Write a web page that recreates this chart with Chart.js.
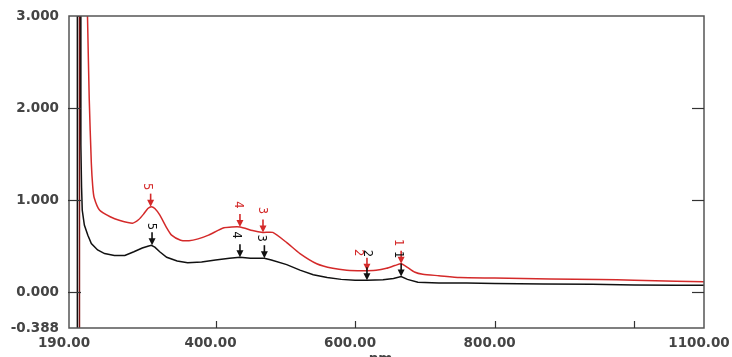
<!DOCTYPE html>
<html>
<head>
<meta charset="utf-8">
<script src="https://cdn.jsdelivr.net/npm/chart.js@4.4.1/dist/chart.umd.min.js"></script>
<style>
html,body{margin:0;padding:0;background:#fff;}
#c{display:block;}
</style>
</head>
<body>
<canvas id="c" width="732" height="357"></canvas>
<script>
// ---- data ----
const xTicks = [190, 400, 600, 800, 1100];
const yTicks = [-0.388, 0, 1, 2, 3];

const blackNm = [202, 202, 206, 207, 208, 209, 212, 217, 222, 231, 241, 255, 270, 283, 295, 303, 308, 313, 320, 330, 345, 360, 380, 400, 420, 435, 450, 470, 480, 502, 521, 540, 560, 580, 600, 617, 640, 655, 666, 675, 690, 720, 760, 800, 870, 940, 1000, 1060, 1100];
const blackA  = [-0.388, 3.0, 3.0, 1.60, 1.14, 0.89, 0.73, 0.62, 0.53, 0.46, 0.42, 0.40, 0.40, 0.44, 0.48, 0.50, 0.51, 0.49, 0.44, 0.38, 0.34, 0.32, 0.33, 0.35, 0.37, 0.38, 0.37, 0.37, 0.35, 0.30, 0.24, 0.19, 0.16, 0.14, 0.13, 0.13, 0.135, 0.15, 0.17, 0.14, 0.11, 0.10, 0.10, 0.095, 0.09, 0.087, 0.08, 0.077, 0.075];

const redNm = [216.5, 219, 222, 224, 226, 234, 249, 263, 281, 290, 297, 303, 308, 313, 320, 330, 337, 350, 362, 375, 390, 412, 435, 453, 468, 482, 502, 521, 545, 568, 588, 610, 630, 645, 657, 666, 675, 685, 697, 720, 750, 800, 880, 950, 1000, 1060, 1100];
const redA  = [3.0, 2.1, 1.4, 1.15, 1.03, 0.89, 0.82, 0.78, 0.75, 0.79, 0.85, 0.91, 0.93, 0.91, 0.84, 0.70, 0.62, 0.565, 0.56, 0.58, 0.62, 0.70, 0.71, 0.67, 0.65, 0.65, 0.54, 0.42, 0.31, 0.26, 0.24, 0.235, 0.24, 0.26, 0.29, 0.31, 0.27, 0.22, 0.195, 0.18, 0.16, 0.155, 0.145, 0.14, 0.13, 0.12, 0.115];

const markerNm = [205, 205];
const markerA = [-0.388, 3.0];

const peakLabels = ['5', '4', '3', '2', '1'];
const redPeakNm = [307, 435, 468, 617, 666];
const redPeakA = [0.93, 0.71, 0.65, 0.235, 0.31];
const blackPeakNm = [309, 435, 470, 617, 666];
const blackPeakA = [0.51, 0.38, 0.37, 0.13, 0.17];

// label offsets (style only): [dx, dy] from arrow tip in px
const redLabelOff = [[-4, -20], [-2, -22], [-1, -22], [-9, -18], [-3, -21]];
const blackLabelOff = [[-1, -19], [-4, -22], [-3, -20], [0, -27], [-3, -22]];

function pts(xs, ys){ return xs.map((x,i)=>({x:x, y:ys[i]})); }

const FONT = 'DejaVu Sans';

const decor = {
  id: 'decor',
  afterDatasetsDraw(chart){
    const {ctx, chartArea:a, scales:{x, y}} = chart;
    ctx.save();
    // frame
    ctx.strokeStyle = '#555';
    ctx.lineWidth = 1.5;
    ctx.strokeRect(a.left, a.top, a.right - a.left, a.bottom - a.top);
    // inner ticks
    ctx.strokeStyle = '#333';
    ctx.lineWidth = 1.2;
    [0,1,2].forEach(v=>{
      const py = Math.round(y.getPixelForValue(v)) + 0.5;
      ctx.beginPath(); ctx.moveTo(a.left - 1, py); ctx.lineTo(a.left + 12, py); ctx.stroke();
      ctx.beginPath(); ctx.moveTo(a.right - 12, py); ctx.lineTo(a.right, py); ctx.stroke();
    });
    [400,600,800,1000].forEach(v=>{
      const px = Math.round(x.getPixelForValue(v)) + 0.5;
      ctx.beginPath(); ctx.moveTo(px, a.bottom); ctx.lineTo(px, a.bottom - 7); ctx.stroke();
    });
    // arrows
    function arrow(nm, val, color, off, label){
      const px = x.getPixelForValue(nm);
      const py = y.getPixelForValue(val);
      ctx.strokeStyle = color; ctx.fillStyle = color; ctx.lineWidth = 1.6;
      ctx.beginPath(); ctx.moveTo(px, py - 13); ctx.lineTo(px, py - 3); ctx.stroke();
      ctx.beginPath(); ctx.moveTo(px - 3.5, py - 7); ctx.lineTo(px + 3.5, py - 7); ctx.lineTo(px, py); ctx.closePath(); ctx.fill();
      ctx.save();
      ctx.translate(px + off[0], py + off[1]);
      ctx.rotate(Math.PI / 2);
      ctx.font = '11.5px ' + FONT;
      ctx.textAlign = 'center'; ctx.textBaseline = 'middle';
      ctx.fillText(label, 0, 0);
      ctx.restore();
    }
    peakLabels.forEach((l,i)=>arrow(redPeakNm[i], redPeakA[i], '#d42a2a', redLabelOff[i], l));
    peakLabels.forEach((l,i)=>arrow(blackPeakNm[i], blackPeakA[i], '#111', blackLabelOff[i], l));
    // axis title
    ctx.fillStyle = '#444';
    ctx.font = 'bold 13.5px ' + FONT;
    ctx.textAlign = 'center'; ctx.textBaseline = 'middle';
    ctx.fillText('nm', (a.left + a.right)/2 - 6, 359);
    ctx.restore();
  }
};

new Chart(document.getElementById('c'), {
  type: 'line',
  data: {
    datasets: [
      {data: pts(markerNm, markerA), borderColor: '#7a1515', borderWidth: 1.5, pointRadius: 0, tension: 0},
      {data: pts(blackNm, blackA), borderColor: '#111', borderWidth: 1.5, pointRadius: 0, tension: 0},
      {data: pts(redNm, redA), borderColor: '#d42a2a', borderWidth: 1.5, pointRadius: 0, tension: 0.2}
    ]
  },
  options: {
    responsive: false,
    animation: false,
    devicePixelRatio: 1,
    layout: {padding: {left: 0, right: 28, top: 16, bottom: 0}},
    plugins: {legend: {display: false}, tooltip: {enabled: false}},
    scales: {
      x: {
        type: 'linear', min: 190, max: 1100,
        grid: {display: false, drawTicks: false},
        border: {display: false},
        afterBuildTicks: s => { s.ticks = xTicks.map(v=>({value: v})); },
        afterFit: s => { s.height = 29; s.paddingLeft = 0; s.paddingRight = 0; },
        ticks: {
          autoSkip: false, maxRotation: 0, padding: 7, labelOffset: -5,
          color: '#444', font: {family: FONT, size: 13.5, weight: 'bold'},
          callback: v => Number(v).toFixed(2)
        }
      },
      y: {
        type: 'linear', min: -0.388, max: 3.0,
        grid: {display: false, drawTicks: false},
        border: {display: false},
        afterBuildTicks: s => { s.ticks = yTicks.map(v=>({value: v})); },
        afterFit: s => { s.width = 69; s.paddingTop = 0; s.paddingBottom = 0; },
        ticks: {
          autoSkip: false, padding: 10,
          color: '#444', font: {family: FONT, size: 13.5, weight: 'bold'},
          callback: v => Number(v).toFixed(3)
        }
      }
    }
  },
  plugins: [decor]
});
</script>
</body>
</html>
